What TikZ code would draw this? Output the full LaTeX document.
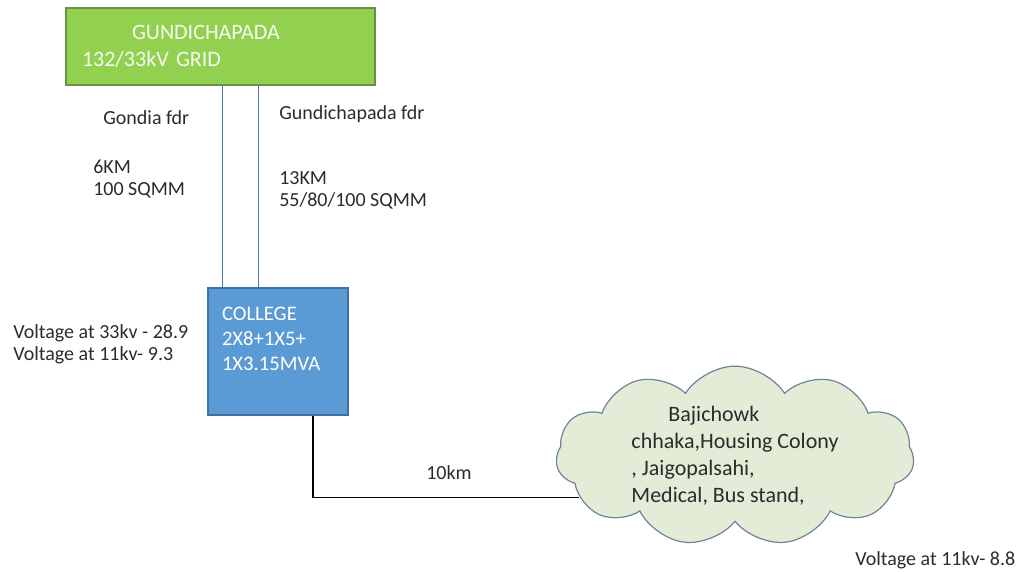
\documentclass[tikz,border=0pt]{standalone}
\usepackage{fontspec}
\setmainfont{Carlito}
\usetikzlibrary{shapes,positioning,calc}

\definecolor{gridgreen}{HTML}{92D050}
\definecolor{gridedge}{HTML}{6A8F4A}
\definecolor{ssblue}{HTML}{5B9BD5}
\definecolor{ssedge}{HTML}{41719C}
\definecolor{cloudfill}{HTML}{E3ECD6}
\definecolor{cloudedge}{HTML}{6F8597}
\definecolor{txtgray}{HTML}{2B2B2B}

\tikzset{
    lbl/.style={anchor=west, inner sep=0pt, align=left, text=txtgray,
        font=\fontsize{15}{16.5}\selectfont},
    gridbox/.style={draw=gridedge, fill=gridgreen, line width=1pt,
        minimum width=231.75pt, minimum height=57.75pt, inner xsep=12pt,
        text width=207.75pt, align=left, text=white!92!gridgreen,
        font=\fontsize{16.5}{20.25}\selectfont},
    ssbox/.style={draw=ssedge, fill=ssblue, line width=1pt,
        minimum width=105pt, minimum height=95.25pt, inner xsep=10.5pt,
        text width=84pt, align=left, text=white,
        font=\fontsize{15.5}{18.75}\selectfont},
    cloudnode/.style={cloud, cloud puffs=11, cloud puff arc=115, cloud ignores aspect,
        draw=cloudedge, fill=cloudfill, line width=0.9pt,
        minimum width=268.5pt, minimum height=132.75pt, inner sep=0pt,
        align=left, text=txtgray, font=\fontsize{16.5}{20.25}\selectfont},
    feeder/.style={draw=ssblue!80!black, line width=0.8pt},
    lv/.style={draw=black, line width=1pt}
}

\begin{document}
\begin{tikzpicture}[x=0.75pt, y=-0.75pt]
    \useasboundingbox (0,0) rectangle (1024,574);

    % Grid substation and college substation
    \node[gridbox] (grid) at (220.5,46.5) {\hspace*{37.5pt}GUNDICHAPADA\\132/33kV GRID};
    \node[ssbox] (college) at (278,351.5) {COLLEGE\\2X8+1X5+\\1X3.15MVA\\~};

    % 33kV feeders
    \coordinate (f1) at ([xshift=11.25pt]college.north west);
    \coordinate (f2) at ([xshift=38.25pt]college.north west);
    \draw[feeder] (f1) -- (f1 |- grid.south); % Gondia fdr
    \draw[feeder] (f2) -- (f2 |- grid.south); % Gundichapada fdr

    % Feeder labels
    \node[lbl] (gondia) at (103,118) {Gondia fdr};
    \node[lbl] (gondiaspec) at (93,179) {6KM\\100 SQMM};
    \node[lbl] (gund) at (279,114) {Gundichapada fdr};
    \node[lbl] (gundspec) at (279,190.5) {13KM\\55/80/100 SQMM};
    \node[lbl] (collegevolt) at (13,344) {Voltage at 33kv - 28.9\\Voltage at 11kv- 9.3};

    % Load area
    \node[cloudnode] (area) at (735,456)
        {\hspace*{27.75pt}Bajichowk\\chhaka,Housing Colony\\, Jaigopalsahi,\\Medical, Bus stand,};
    \node[lbl] (areavolt) at (855,560) {Voltage at 11kv- 8.8};

    % 11kV line to load area
    \coordinate (c1) at ([xshift=26.25pt]college.south);
    \draw[lv] (c1) |- (area.195);
    \node[lbl, anchor=center] (len) at (449,473) {10km};
\end{tikzpicture}
\end{document}
